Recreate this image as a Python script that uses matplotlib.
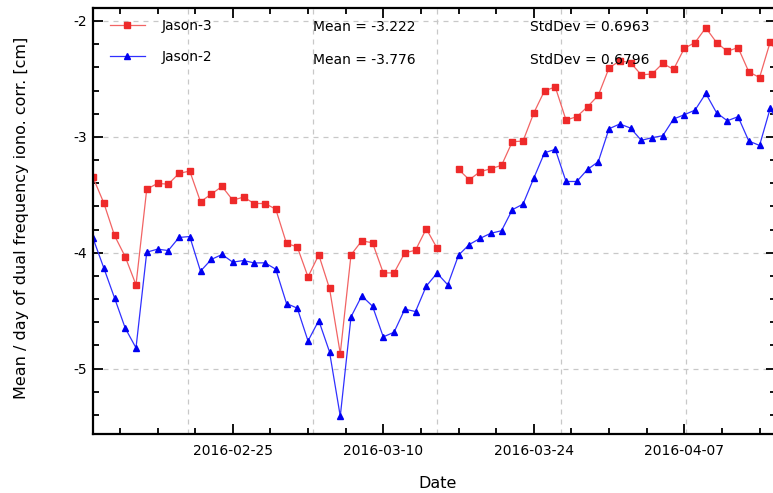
# Jason-3 / Jason-2 daily mean of the dual frequency ionospheric correction

import numpy as np
import matplotlib
matplotlib.use("Agg")
import matplotlib.pyplot as plt
import matplotlib.dates as mdates
from matplotlib.ticker import MultipleLocator

plt.rcParams["font.family"] = "DejaVu Sans"
plt.rcParams["axes.unicode_minus"] = False

START = "2016-02-12"
N_DAYS = 65   # last one sits just past the right edge

jason3 = [-3.350, -3.569, -3.851, -4.035, -4.277, -3.451, -3.402, -3.408, -3.315, -3.295,
          -3.560, -3.494, -3.428, -3.546, -3.520, -3.575, -3.575, -3.624, -3.920, -3.949,
          -4.208, -4.018, -4.308, -4.870, -4.018, -3.897, -3.914, -4.174, -4.174, -4.001,
          -3.978, -3.793, -3.960, np.nan, -3.281, -3.370, -3.301, -3.275, -3.246, -3.042,
          -3.036, -2.794, -2.602, -2.570, -2.855, -2.826, -2.740, -2.642, -2.405, -2.344,
          -2.360, -2.465, -2.457, -2.366, -2.418, -2.236, -2.186, -2.059, -2.186, -2.262,
          -2.229, -2.439, -2.488, -2.179, -2.330]
jason2 = [-3.874, -4.130, -4.389, -4.651, -4.821, -3.995, -3.969, -3.981, -3.868, -3.860,
          -4.159, -4.058, -4.015, -4.081, -4.067, -4.088, -4.087, -4.142, -4.438, -4.478,
          -4.761, -4.585, -4.855, -5.411, -4.553, -4.372, -4.461, -4.726, -4.686, -4.487,
          -4.507, -4.288, -4.176, -4.277, -4.021, -3.929, -3.876, -3.832, -3.810, -3.629,
          -3.580, -3.356, -3.137, -3.108, -3.385, -3.385, -3.281, -3.214, -2.930, -2.889,
          -2.924, -3.030, -3.007, -2.990, -2.846, -2.809, -2.769, -2.625, -2.792, -2.861,
          -2.826, -3.036, -3.074, -2.751, -2.950]

labels = ["Jason-3", "Jason-2"]
means = ["-3.222", "-3.776"]
stddevs = ["0.6963", "0.6796"]

# odd grid spacing of the original plot (days after START)
grid_days = [8.86, 20.43, 32.0, 43.57, 55.14]

t0 = mdates.datestr2num(START)
dates = t0 + np.arange(N_DAYS)

W, H = 773, 493
fig = plt.figure(figsize=(W / 100, H / 100), dpi=100)
ax = fig.add_axes([93 / W, (H - 434) / H, (776 - 93) / W, (434 - 8) / H])

l3, = ax.plot(dates, jason3, '-', color='#f26464', lw=0.9, marker='s', ms=4,
              mfc='#ee2a2a', mec='#ee2a2a', clip_on=True)
l2, = ax.plot(dates, jason2, '-', color='#3030ff', lw=0.9, marker='^', ms=4.2,
              mfc='#0000f0', mec='#0000f0', clip_on=True)

ax.set_xlim(t0, t0 + 63.53)
ax.set_ylim(-5.564, -1.888)

# grid
for g in grid_days:
    ax.axvline(t0 + g, color='#c8c8c8', lw=0.9, ls=(0, (4, 4)), zorder=0)
for v in [-2, -3, -4, -5]:
    ax.axhline(v, color='#c8c8c8', lw=0.9, ls=(0, (4, 4)), zorder=0)

ax.xaxis.set_major_locator(MultipleLocator(14))
ax.xaxis.set_minor_locator(MultipleLocator(3.5))
ax.xaxis.set_major_formatter(mdates.DateFormatter("%Y-%m-%d"))
ax.yaxis.set_major_locator(MultipleLocator(1))
ax.yaxis.set_minor_locator(MultipleLocator(0.2))
ax.yaxis.set_major_formatter(plt.FuncFormatter(lambda v, p: "%d" % round(v)))

ax.tick_params(which='both', direction='in', top=True, right=True, width=1.3)
ax.tick_params(which='major', length=7.5, labelsize=10)
ax.tick_params(which='minor', length=4)
ax.tick_params(axis='x', pad=7)
ax.tick_params(axis='y', pad=4)
for s in ax.spines.values():
    s.set_linewidth(1.6)

ax.set_xlabel("Date", fontsize=11.5)
ax.set_ylabel("Mean / day of dual frequency iono. corr. [cm]", fontsize=11.5)
ax.xaxis.set_label_coords(0.504, -0.098)
ax.yaxis.set_label_coords(-0.094, 0.508)

leg = ax.legend([l3, l2], labels, loc='upper left', frameon=False, fontsize=10,
                bbox_to_anchor=(110 / W, (H - 19) / H), bbox_transform=fig.transFigure,
                borderpad=0, borderaxespad=0, handlelength=2.5, handletextpad=1.2,
                labelspacing=1.2)

row_y = [27, 60]
for i in range(2):
    fig.text(313 / W, (H - row_y[i]) / H, "Mean = " + means[i], fontsize=10, va='center')
    fig.text(530 / W, (H - row_y[i]) / H, "StdDev = " + stddevs[i], fontsize=10, va='center')

fig.savefig("out.png", dpi=100)
